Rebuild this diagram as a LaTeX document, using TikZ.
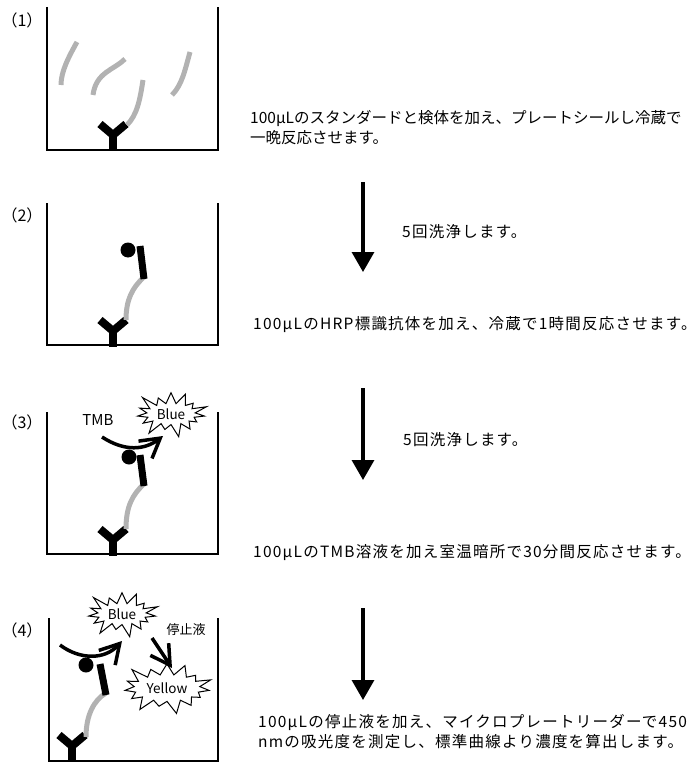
\documentclass[tikz,border=0pt]{standalone}
\usepackage{fontspec}
\setmainfont{Noto Sans CJK JP}
\newfontfamily\notefont[LetterSpace=8]{Noto Sans CJK JP}
\usetikzlibrary{arrows.meta,shapes.symbols}
\definecolor{antigray}{gray}{0.7}
\def\antibody#1#2{\draw[ab] (#1-13,#2-11) -- (#1,#2) -- (#1+13,#2-11); \draw[ab] (#1,#2) -- (#1,#2+16);}

\begin{document}
\begin{tikzpicture}[x=1pt,y=-1pt,
    well/.style={line width=1.4pt},
    ab/.style={line width=8pt},
    antigen/.style={line width=5pt,color=antigray},
    bar/.style={line width=7pt},
    react/.style={line width=3.5pt,-{Straight Barb[length=19pt,width=22pt]}},
    flow/.style={line width=3.3pt,-{Triangle[width=22pt,length=20pt]}},
    note/.style={anchor=west,inner sep=0pt,align=left,font=\notefont\fontsize{15.5}{20}\selectfont},
    tag/.style={inner sep=0pt,font=\fontsize{16}{16}\selectfont},
    burst/.style={starburst,draw,fill=white,line width=1pt,starburst points=15,
      starburst point height=15pt,inner xsep=3pt,inner ysep=2pt,font=\fontsize{13.5}{13.5}\selectfont}]
  \useasboundingbox (0,0) rectangle (697,762);
  % (1)
  \node[tag] (n1) at (22,20) {（1）};
  \draw[well] (47,7) -- (47,150) -- (218,150) -- (218,7);
  \antibody{113}{135}
  \draw[antigen] (77,42) .. controls (68,58) and (61,72) .. (61,85);
  \draw[antigen] (125,59) .. controls (114,70) and (96,72) .. (93,95);
  \draw[antigen] (143,80) .. controls (140,100) and (137,115) .. (127,125);
  \draw[antigen] (190,52) .. controls (185,70) and (182,85) .. (172,95);
  \node[note,font=\fontsize{15.5}{20}\selectfont] (s1) at (250,128) {100μLのスタンダードと検体を加え、プレートシールし冷蔵で\\一晩反応させます。};
  \coordinate (w1a) at (363,182);
  \coordinate (w1b) at (363,272);
  \draw[flow] (w1a) -- (w1b);
  \node[note] (wash1) at (402,232) {5回洗浄します。};
  % (2)
  \node[tag] (n2) at (22,215) {（2）};
  \draw[well] (47,203) -- (47,345) -- (218,345) -- (218,203);
  \antibody{113}{331}
  \draw[antigen] (126,320) .. controls (126,300) and (132,288) .. (144,277);
  \draw[bar] (144,279) -- (140,246);
  \fill (128,250) circle (7.5);
  \node[note] (s2) at (253,325) {100μLのHRP標識抗体を加え、冷蔵で1時間反応させます。};
  \coordinate (w2a) at (363,388);
  \coordinate (w2b) at (363,480);
  \draw[flow] (w2a) -- (w2b);
  \node[note] (wash2) at (403,440) {5回洗浄します。};
  % (3)
  \node[tag] (n3) at (22,422) {（3）};
  \draw[well] (47,412) -- (47,554) -- (218,554) -- (218,412);
  \antibody{113}{540}
  \draw[antigen] (126,529) .. controls (126,507) and (132,495) .. (144,484);
  \draw[bar] (144,486) -- (140,455);
  \fill (129,457) circle (7.5);
  \node[tag,font=\fontsize{15}{15}\selectfont] (tmb) at (98,420) {TMB};
  \node[burst] (blue3) at (171,414) {Blue};
  \coordinate (t3) at (102,437);
  \draw[react] (t3) .. controls (125,452) and (145,450) .. (163,436);
  \node[note] (s3) at (253,553) {100μLのTMB溶液を加え室温暗所で30分間反応させます。};
  \coordinate (w3a) at (363,608);
  \coordinate (w3b) at (363,700);
  \draw[flow] (w3a) -- (w3b);
  % (4)
  \node[tag] (n4) at (22,630) {（4）};
  \draw[well] (49,618) -- (49,761) -- (218,761) -- (218,618);
  \antibody{72}{746}
  \draw[antigen] (86,737) .. controls (86,715) and (94,700) .. (106,693);
  \draw[bar] (106,695) -- (100,664);
  \fill (86,665) circle (7.5);
  \node[burst] (blue4) at (122,614) {Blue};
  \node[burst,inner ysep=4pt] (yellow4) at (167,688) {Yellow};
  \node[inner sep=0pt,font=\fontsize{13}{13}\selectfont] (stop) at (186,630) {停止液};
  \coordinate (t4) at (60,645);
  \draw[react] (t4) .. controls (80,660) and (105,660) .. (122,641);
  \coordinate (b4) at (152,638);
  \coordinate (y4) at (172,668);
  \draw[react] (b4) -- (y4);
  \node[note] (s4) at (258,732) {100μLの停止液を加え、マイクロプレートリーダーで450\\nmの吸光度を測定し、標準曲線より濃度を算出します。};
\end{tikzpicture}
\end{document}
